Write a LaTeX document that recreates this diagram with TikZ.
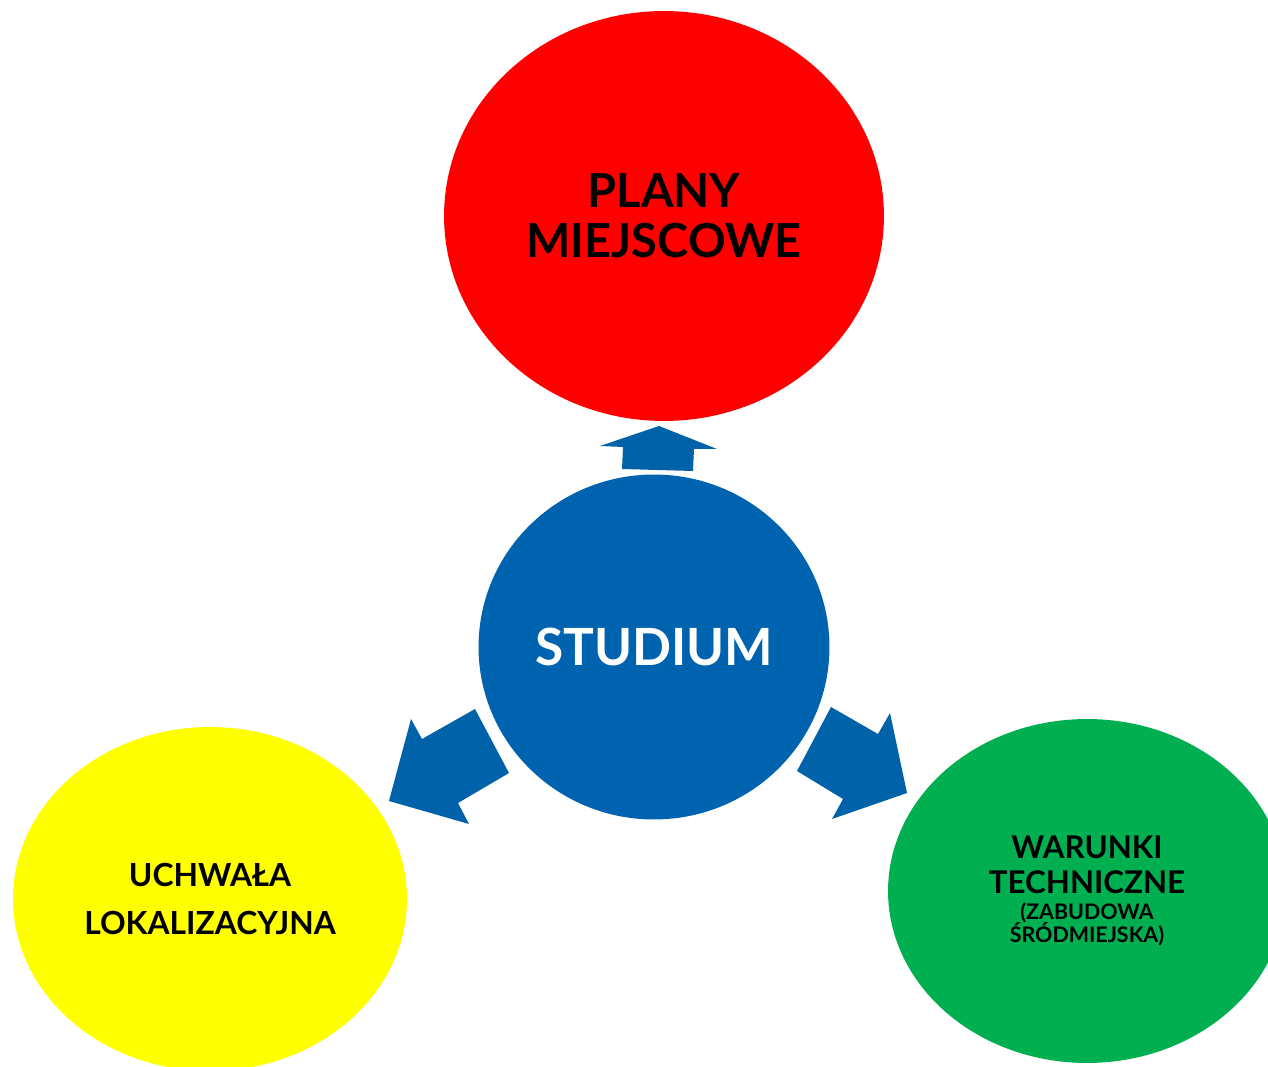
\documentclass[tikz,border=0pt]{standalone}
\usepackage{fontspec}
\setmainfont{Lato}
\usetikzlibrary{shapes.geometric}
\definecolor{studblue}{RGB}{0,99,176}
\definecolor{arrblue}{RGB}{0,98,168}
\definecolor{planred}{RGB}{255,0,0}
\definecolor{uchyellow}{RGB}{255,255,0}
\definecolor{wtgreen}{RGB}{0,176,80}
\tikzset{
  blob/.style={ellipse, inner sep=0pt, align=center},
  blockarrow/.style={fill=arrblue, draw=none}
}

\begin{document}
\begin{tikzpicture}[x=0.02cm, y=-0.02cm]
\clip (0,0) rectangle (1268,1067);

\node[blob, fill=planred, minimum width=8.8cm, minimum height=8.2cm, font=\bfseries\fontsize{26.7}{28.3}\selectfont] (plany) at (664,216) {PLANY\\MIEJSCOWE};
\node[blob, fill=studblue, text=white, minimum width=7.02cm, minimum height=6.9cm, font=\bfseries\fontsize{29.2}{32}\selectfont] (studium) at (654,647) {STUDIUM};
\node[blob, fill=uchyellow, minimum width=7.88cm, minimum height=6.88cm, font=\bfseries\fontsize{18.1}{27.2}\selectfont] (uchwala) at (210,899) {UCHWAŁA\\LOKALIZACYJNA};
\node[blob, fill=wtgreen, minimum width=7.96cm, minimum height=6.88cm, font=\bfseries\fontsize{17.8}{19.8}\selectfont] (warunki) at (1087,891) {WARUNKI\\TECHNICZNE\\[-5pt]{\fontsize{12.2}{13}\selectfont (ZABUDOWA}\\[-6.8pt]{\fontsize{12.2}{13}\selectfont ŚRÓDMIEJSKA)}};

\fill[blockarrow] (659,426) -- (717,449) -- (694,449) -- (693,471) -- (622,469) -- (623,447) -- (600,446) -- cycle;
\fill[blockarrow] (389,801) -- (411,719) -- (422,739) -- (475,709) -- (509,773) -- (458,803) -- (469,824) -- cycle;
\fill[blockarrow] (907,793) -- (832,819) -- (843,799) -- (797,771) -- (831,707) -- (878,734) -- (890,713) -- cycle;
\end{tikzpicture}
\end{document}
